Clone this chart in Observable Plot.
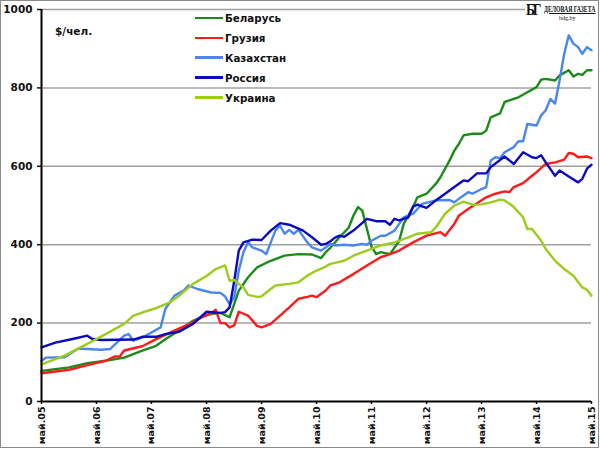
<!DOCTYPE html>
<html><head><meta charset="utf-8">
<script src="https://cdn.jsdelivr.net/npm/d3@7"></script>
<script src="https://cdn.jsdelivr.net/npm/@observablehq/plot@0.6"></script>
<style>
body{margin:0;background:#fff;}
#wrap{position:relative;width:600px;height:449px;overflow:hidden;background:#fff;}
#wrap svg{display:block;}
.border{position:absolute;left:0;top:0;width:597px;height:446px;border:1.5px solid #8a8a8a;pointer-events:none;}
.unit{position:absolute;left:55px;top:25px;font:bold 10.5px "DejaVu Sans",Verdana,sans-serif;color:#111;}
.legend{position:absolute;left:195px;top:8px;font:bold 10.3px "DejaVu Sans",Verdana,sans-serif;color:#111;}
.legend .row{height:19.9px;display:flex;align-items:center;}
.legend .sw{width:28px;height:2.5px;margin-right:2px;}
.logo{position:absolute;left:525px;top:1px;width:72px;height:23px;background:#fff;font-family:"Liberation Serif","DejaVu Serif",serif;color:#111;}
.logo .bg{position:absolute;left:1px;top:0px;font-size:16px;font-weight:bold;letter-spacing:-2.5px;transform:scaleX(0.85);transform-origin:left top;}
.logo .name{position:absolute;left:19px;top:4px;font-size:8px;font-weight:bold;text-decoration:underline;white-space:nowrap;transform:scaleX(0.72);transform-origin:left top;}
.logo .site{position:absolute;left:34px;top:14px;font-size:6px;white-space:nowrap;}
</style>
</head><body>
<div id="wrap"></div>
<script>
// months since May 2005, value ($ per person)
const belarus = [[0,78],[6,87],[10,98],[14,104],[18,112],[22,130],[25,142],[27,159],[30,181],[33,206],[36,221],[39,226],[41,215],[42,249],[43,283],[45,317],[47,342],[50,359],[53,372],[56,376],[59,375],[61,366],[62,381],[63,392],[65,419],[67,444],[68,474],[69,496],[70,487],[71,440],[72,395],[73,376],[74,381],[76,376],[78,410],[79,453],[81,496],[82,521],[84,530],[86,555],[87,572],[89,615],[90,640],[91,657],[92,679],[94,683],[96,683],[97,691],[98,725],[100,735],[101,764],[102,768],[104,776],[106,789],[108,802],[109,821],[110,823],[112,819],[113,832],[115,845],[116,829],[117,836],[118,833],[119,845],[120,845]];
const georgia = [[0,72],[6,81],[10,93],[14,104],[16,115],[17,114],[18,130],[22,141],[25,159],[29,181],[33,202],[35,215],[37,225],[38,234],[39,200],[40,200],[41,189],[42,194],[43,229],[45,219],[47,193],[48,189],[50,198],[52,219],[54,240],[56,262],[58,267],[59,270],[60,266],[62,283],[63,296],[65,304],[68,325],[71,347],[74,368],[76,376],[78,385],[81,406],[84,423],[87,432],[88,423],[90,453],[91,474],[93,491],[95,506],[97,521],[99,530],[101,536],[102,534],[103,547],[105,557],[107,576],[108,585],[110,606],[112,610],[114,617],[115,634],[116,632],[117,623],[119,625],[120,621]];
const kazakhstan = [[0,104],[1,112],[5,113],[8,135],[10,134],[13,132],[15,134],[18,168],[19,172],[20,155],[22,163],[24,176],[26,189],[27,236],[29,270],[31,283],[32,296],[34,287],[37,278],[39,277],[40,268],[41,248],[42,266],[43,334],[44,381],[45,406],[46,393],[48,385],[49,376],[51,436],[52,449],[53,428],[54,438],[55,428],[56,438],[58,406],[59,393],[61,385],[62,393],[63,402],[64,398],[66,400],[68,398],[70,402],[71,400],[72,410],[74,423],[75,423],[77,436],[78,453],[79,470],[81,479],[82,491],[83,504],[86,513],[89,514],[90,508],[91,517],[93,534],[94,530],[96,542],[97,547],[98,615],[99,623],[100,621],[101,636],[103,649],[104,664],[105,664],[106,708],[108,704],[109,730],[110,743],[111,772],[112,760],[113,819],[114,887],[115,934],[116,913],[117,904],[118,887],[119,904],[120,896]];
const russia = [[0,138],[3,150],[7,160],[10,168],[11,160],[13,157],[20,158],[22,165],[25,165],[27,172],[30,178],[33,198],[36,229],[39,226],[40,228],[41,240],[42,308],[43,385],[44,406],[46,413],[48,412],[50,436],[52,455],[54,451],[57,436],[59,419],[61,400],[62,402],[63,409],[64,418],[65,423],[66,420],[68,436],[71,466],[73,460],[75,460],[76,451],[77,466],[78,462],[80,470],[81,497],[82,502],[83,498],[84,494],[86,513],[88,530],[90,547],[92,564],[93,562],[95,582],[97,582],[98,598],[101,625],[103,606],[105,636],[107,623],[108,621],[109,628],[110,610],[112,576],[113,589],[115,574],[117,559],[118,568],[119,594],[120,604]];
const ukraine = [[0,95],[5,117],[10,147],[14,172],[18,198],[20,219],[22,227],[25,238],[28,253],[30,270],[33,300],[36,320],[38,338],[40,347],[41,308],[42,310],[43,300],[44,291],[45,272],[47,267],[48,268],[49,278],[51,296],[54,300],[56,304],[58,321],[60,334],[62,344],[63,351],[66,359],[68,372],[71,385],[74,398],[77,406],[80,419],[82,428],[85,432],[86,444],[88,479],[90,500],[92,510],[94,502],[96,503],[98,508],[100,515],[101,513],[102,505],[103,496],[105,470],[106,440],[107,440],[109,410],[110,389],[112,359],[114,338],[116,321],[118,291],[119,285],[120,270]];

const seriesNames = ["Беларусь","Грузия","Казахстан","Россия","Украина"];
const seriesColors = ["#1a8c1a","#ff1a1a","#4a86f0","#0a0ac0","#9ccc1c"];
const seriesData = [belarus, georgia, kazakhstan, russia, ukraine];
const yTicks = [0,200,400,600,800,1000];
const tickYears = d3.range(2005, 2016);
const unitLabel = "$/чел.";

const start = new Date(2005, 4, 1);
const rows = [];
seriesData.forEach((s, i) => s.forEach(([m, v]) => rows.push({date: d3.timeMonth.offset(start, m), value: v, name: seriesNames[i]})));
const xTicks = tickYears.map(y => new Date(y, 4, 1));
const fmtX = d => "май." + String(d.getFullYear()).slice(2);

const chart = Plot.plot({
  width: 600, height: 449,
  marginLeft: 41, marginRight: 9, marginTop: 9, marginBottom: 48,
  style: {fontFamily: '"DejaVu Sans", Verdana, sans-serif', fontSize: "10.5px", fontWeight: "bold", color: "#111", background: "#fff", overflow: "visible"},
  x: {type: "time", domain: [xTicks[0], xTicks[xTicks.length-1]], label: null},
  y: {domain: [0, 1000], label: null},
  color: {domain: seriesNames, range: seriesColors},
  marks: [
    Plot.ruleY(yTicks.slice(1), {stroke: "#a0a0a0", strokeWidth: 1.5}),
    Plot.axisX({ticks: xTicks, tickFormat: fmtX, tickRotate: -90, tickSize: 3, tickPadding: 2, label: null, strokeWidth: 1.5, fontWeight: "bold", fontSize: 9.5}),
    Plot.axisY({ticks: yTicks, tickFormat: d => String(d), tickSize: 4, tickPadding: 5, label: null, strokeWidth: 1.5, fontWeight: "bold", fontSize: 10.5}),
    Plot.lineY(rows, {x: "date", y: "value", z: "name", stroke: "name", strokeWidth: 2.4, curve: "linear"}),
    Plot.ruleY([0], {stroke: "#000", strokeWidth: 2}),
    Plot.ruleX([xTicks[0]], {stroke: "#000", strokeWidth: 2})
  ]
});
const wrap = document.getElementById("wrap");
wrap.appendChild(chart);

const unit = document.createElement("div");
unit.className = "unit"; unit.textContent = unitLabel; wrap.appendChild(unit);

const leg = document.createElement("div");
leg.className = "legend";
seriesNames.forEach((n, i) => {
  const r = document.createElement("div"); r.className = "row";
  const sw = document.createElement("span"); sw.className = "sw"; sw.style.background = seriesColors[i];
  const t = document.createElement("span"); t.textContent = n;
  r.appendChild(sw); r.appendChild(t); leg.appendChild(r);
});
wrap.appendChild(leg);

const logo = document.createElement("div");
logo.className = "logo";
logo.innerHTML = '<span class="bg">БГ</span><span class="name">ДЕЛОВАЯ ГАЗЕТА</span><span class="site">bdg.by</span>';
wrap.appendChild(logo);

const b = document.createElement("div"); b.className = "border"; wrap.appendChild(b);
</script>
</body></html>
